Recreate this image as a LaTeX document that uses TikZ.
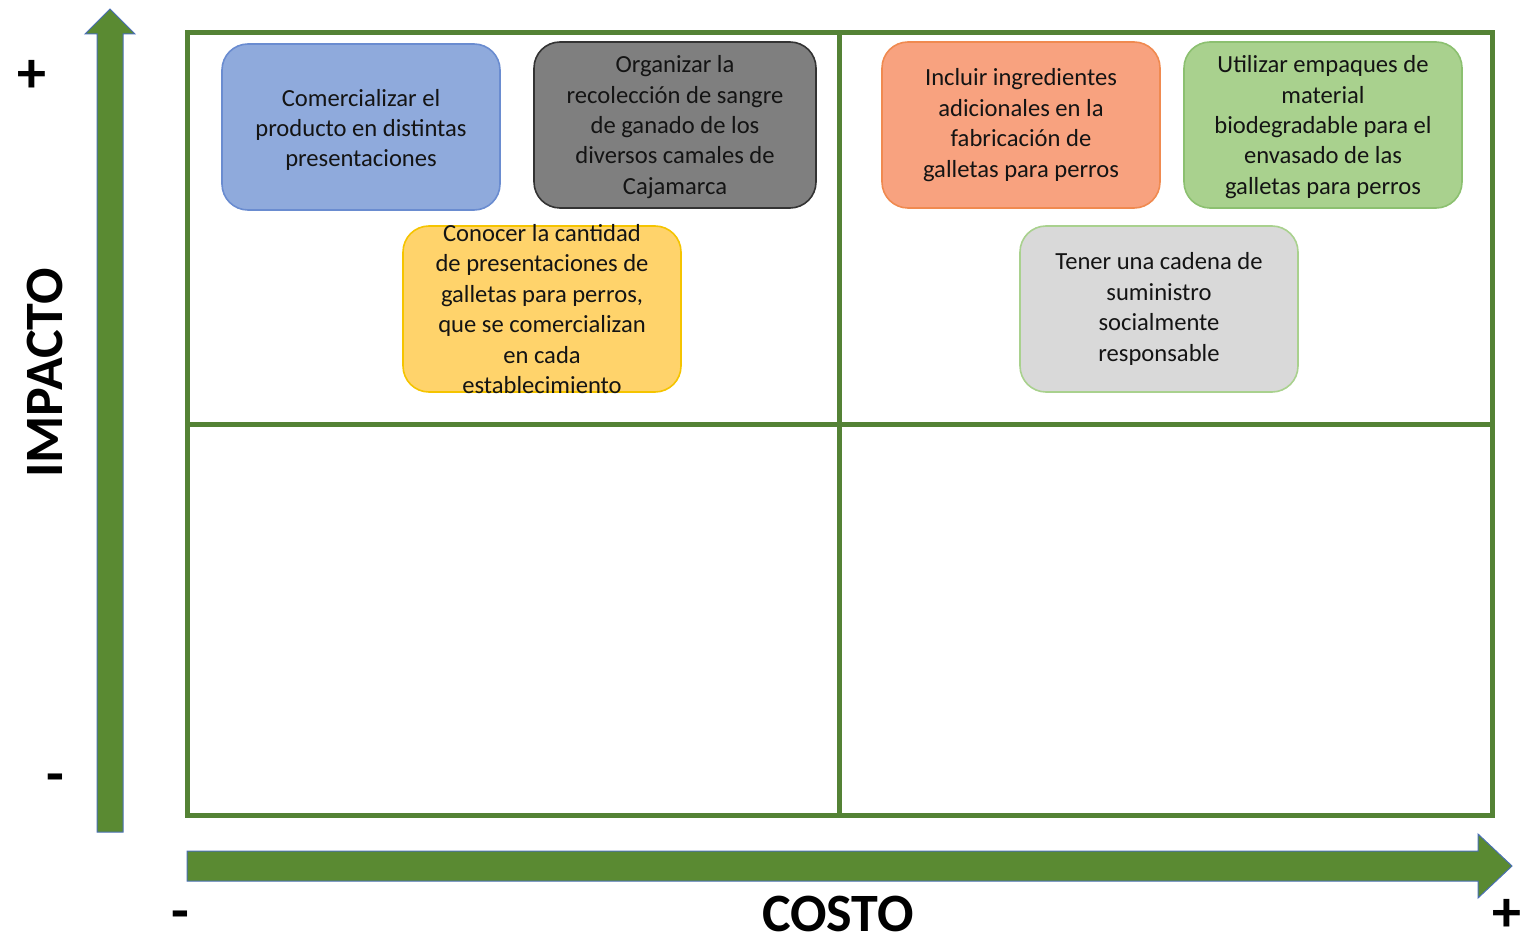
\documentclass[tikz,border=0pt]{standalone}
\usepackage{fontspec}
\setmainfont{Carlito}
\definecolor{frameg}{HTML}{548235}
\definecolor{arrowg}{HTML}{5A8A32}
\definecolor{arrowb}{HTML}{4A6FB5}
\definecolor{cblue}{HTML}{8FAADC}
\definecolor{cblueb}{HTML}{6A8CD0}
\definecolor{cgray}{HTML}{7F7F7F}
\definecolor{cyel}{HTML}{FFD36B}
\definecolor{cyelb}{HTML}{F5C400}
\definecolor{corg}{HTML}{F8A27F}
\definecolor{corgb}{HTML}{F08A50}
\definecolor{cgrn}{HTML}{A9D18E}
\definecolor{cgrnb}{HTML}{8CC070}
\definecolor{clgray}{HTML}{D9D9D9}
\definecolor{clgrayb}{HTML}{A9D18E}
\definecolor{txtc}{HTML}{141414}
\tikzset{
  box/.style={draw, line width=0.8pt, rounded corners=13pt, minimum width=139pt, minimum height=83pt, inner sep=0pt},
  boxtxt/.style={align=center, font=\fontsize{12.3}{15.2}\selectfont, text=txtc, inner sep=0pt},
  grid/.style={draw=frameg, line width=2.5pt},
  axislbl/.style={font=\fontsize{27}{30}\selectfont\bfseries, inner sep=0pt},
  sign/.style={font=\fontsize{29}{29}\selectfont\bfseries, inner sep=0pt}
}
\begin{document}
\begin{tikzpicture}[x=0.5pt,y=-0.5pt]
\useasboundingbox (0,0) rectangle (1525,941);
% vertical arrow
\fill[arrowg, draw=arrowb, line width=0.5pt] (97,832) -- (97,34) -- (85,34) -- (110,9) -- (135,34) -- (123,34) -- (123,832) -- cycle;
% horizontal arrow
\fill[arrowg, draw=arrowb, line width=0.5pt] (187,851) -- (1478,851) -- (1478,834) -- (1512,866) -- (1478,898) -- (1478,881) -- (187,881) -- cycle;
% grid
\draw[grid] (187,33) rectangle (1492,815);
\draw[grid] (839,33) -- (839,815);
\draw[grid] (187,424) -- (1492,424);
% boxes
\node[box, fill=cblue, draw=cblueb] (b1) at (361,127) {};
\node[boxtxt] (t1) at ([yshift=-1.5pt]b1.center) {Comercializar el\\producto en distintas\\presentaciones};
\node[box, fill=cgray, draw=black!80, minimum width=141pt] (b2) at (675,125) {};
\node[boxtxt] (t2) at ([yshift=-1pt]b2.center) {Organizar la\\recolección de sangre\\de ganado de los\\diversos camales de\\Cajamarca};
\node[box, fill=cyel, draw=cyelb] (b3) at (542,309) {};
\node[boxtxt] (t3) at (b3.center) {Conocer la cantidad\\de presentaciones de\\galletas para perros,\\que se comercializan\\en cada\\establecimiento};
\node[box, fill=corg, draw=corgb] (b4) at (1021,125) {};
\node[boxtxt] (t4) at (b4.center) {Incluir ingredientes\\adicionales en la\\fabricación de\\galletas para perros};
\node[box, fill=cgrn, draw=cgrnb] (b5) at (1323,125) {};
\node[boxtxt] (t5) at ([yshift=-1pt]b5.center) {Utilizar empaques de\\material\\biodegradable para el\\envasado de las\\galletas para perros};
\node[box, fill=clgray, draw=clgrayb] (b6) at (1159,309) {};
\node[boxtxt] (t6) at (b6.center) {Tener una cadena de\\suministro\\socialmente\\responsable};
% labels
\node[axislbl, rotate=90] (impacto) at (45,373) {IMPACTO};
\node[axislbl] (costo) at (838,914) {COSTO};
\node[sign] (ptop) at (32,76) {+};
\node[sign] (mleft) at (55,784) {-};
\node[sign] (mbot) at (180,921) {-};
\node[sign] (pright) at (1507,915) {+};
\end{tikzpicture}
\end{document}
